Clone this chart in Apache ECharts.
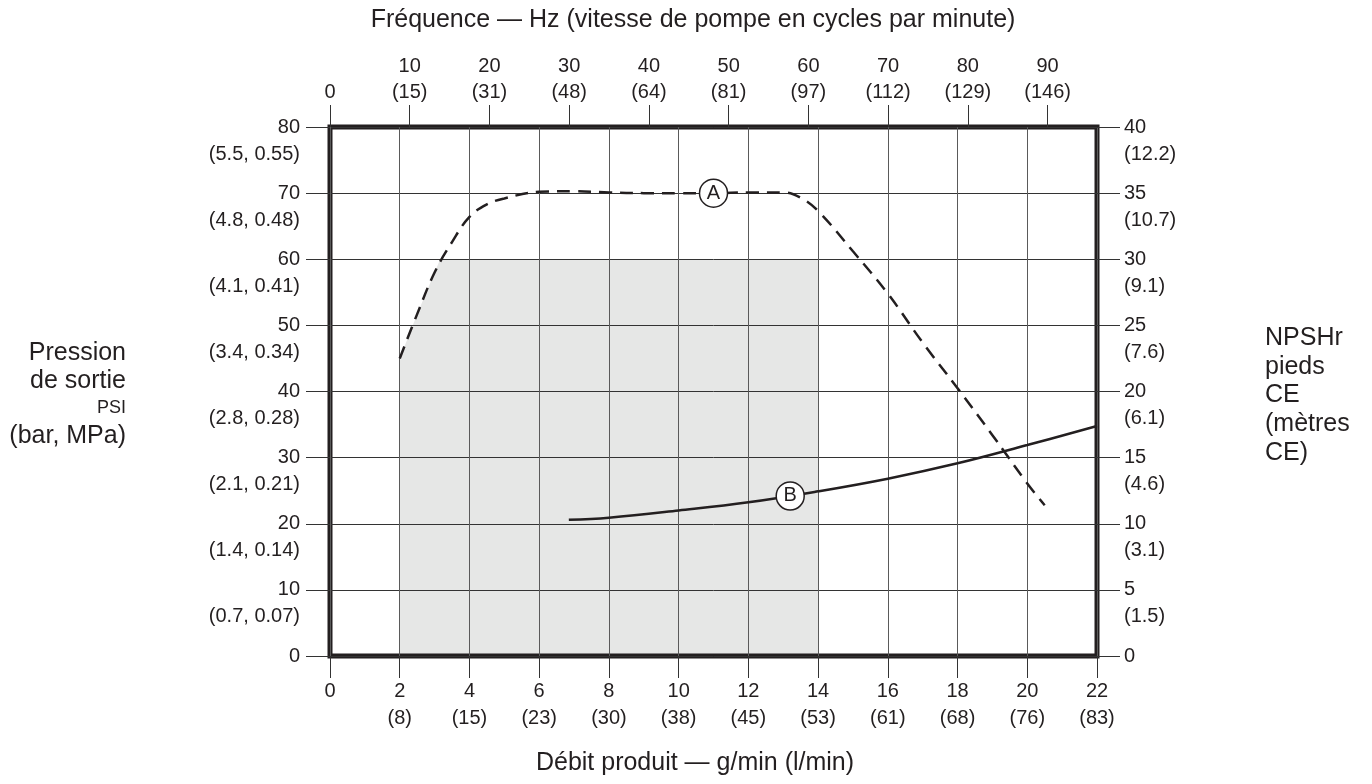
<!DOCTYPE html>
<html>
<head>
<meta charset="utf-8">
<title>Courbe de performance pompe</title>
<script src="https://cdn.jsdelivr.net/npm/echarts@6/dist/echarts.min.js"></script>
<style>
    html, body { margin: 0; padding: 0; background: #fff; }
    #chart { width: 1372px; height: 784px; }
</style>
</head>
<body>
<div id="chart"></div>
<script>
    // axe bas : débit g/min, l/min entre parenthèses
    const debitTicks = [0, 2, 4, 6, 8, 10, 12, 14, 16, 18, 20, 22];
    const debitLpm = ['', '8', '15', '23', '30', '38', '45', '53', '61', '68', '76', '83'];
    // axe haut : fréquence Hz, cycles/min entre parenthèses
    const freqTicks = [0, 10, 20, 30, 40, 50, 60, 70, 80, 90];
    const freqCpm = ['', '15', '31', '48', '64', '81', '97', '112', '129', '146'];
    const freqMax = 96.2;
    // axe gauche : PSI (bar, MPa)
    const psiTicks = [0, 10, 20, 30, 40, 50, 60, 70, 80];
    const psiBarMpa = ['', '0.7, 0.07', '1.4, 0.14', '2.1, 0.21', '2.8, 0.28', '3.4, 0.34', '4.1, 0.41', '4.8, 0.48', '5.5, 0.55'];
    // axe droit : NPSHr pieds CE (mètres CE)
    const npshTicks = [0, 5, 10, 15, 20, 25, 30, 35, 40];
    const npshMetres = ['', '1.5', '3.1', '4.6', '6.1', '7.6', '9.1', '10.7', '12.2'];

    // courbe A : pression de sortie (PSI)
    const courbeAx = [2, 2.5, 3, 3.5, 4, 4.5, 5, 6, 7, 8, 9, 10, 11, 12, 13, 13.5, 14, 15, 16, 17, 18, 19, 20, 20.5];
    const courbeAy = [45, 51.7, 58, 62.6, 66.4, 68.3, 69.2, 70.2, 70.3, 70.1, 70, 70, 70, 70.1, 70.1, 69.3, 67.3, 61.2, 54.8, 47.4, 40.5, 33.4, 26.1, 22.8];
    // courbe B : NPSHr (pieds CE)
    const courbeBx = [6.85, 8, 10, 12, 14, 16, 18, 20, 22];
    const courbeBy = [10.3, 10.46, 11.0, 11.62, 12.45, 13.41, 14.57, 15.95, 17.39];
    // zone grisée
    const zoneX = [2, 2.5, 3, 3.16, 14];
    const zoneY = [45, 51.7, 58, 60, 60];
    // repères A et B
    const repereA = [11, 70];
    const repereB = [13.2, 12.1];

    const ink = '#231f20';
    const font = '"Liberation Sans", Arial, sans-serif';

    const zip = (xs, ys) => xs.map((x, i) => [x, ys[i]]);

    const tickLabel = {color: ink, fontSize: 20, fontFamily: font, lineHeight: 27};
    const noLine = {show: false, onZero: false};

    // axe de valeurs principal + axe superposé pour la ligne entre parenthèses
    function axeY(pos, max, interval, ticks, subs, tickLen, margin, withSplit) {
        return [
            {
                type: 'value', position: pos, min: 0, max: max, interval: interval,
                axisLine: noLine,
                axisTick: {show: true, length: tickLen, lineStyle: {color: '#333', width: 1}},
                splitLine: {show: withSplit, lineStyle: {color: '#333', width: 1}},
                axisLabel: Object.assign({}, tickLabel, {margin: margin})
            },
            {
                type: 'value', position: pos, min: 0, max: max, interval: interval,
                axisLine: noLine, axisTick: {show: false}, splitLine: {show: false},
                axisLabel: Object.assign({}, tickLabel, {
                    margin: margin, verticalAlign: 'top', lineHeight: 54,
                    formatter: function (v) {
                        const i = ticks.indexOf(v);
                        return i > 0 ? '(' + subs[i] + ')' : '';
                    }
                })
            }
        ];
    }
    const yLeft = axeY('left', 80, 10, psiTicks, psiBarMpa, 24, 30, true);
    const yRight = axeY('right', 40, 5, npshTicks, npshMetres, 23, 27, false);

    const chart = echarts.init(document.getElementById('chart'));
    chart.setOption({
        animation: false,
        grid: {
            left: 330, right: 275, top: 127, bottom: 128,
            show: true, borderWidth: 5, borderColor: ink, backgroundColor: 'transparent'
        },
        xAxis: [
            {
                type: 'value', position: 'bottom', min: 0, max: 22, interval: 2,
                axisLine: noLine,
                axisTick: {show: true, length: 22, lineStyle: {color: '#333', width: 1}},
                splitLine: {show: true, lineStyle: {color: '#5a5a5a', width: 1}},
                axisLabel: Object.assign({}, tickLabel, {
                    margin: 22, verticalAlign: 'top',
                    formatter: function (v) {
                        const i = debitTicks.indexOf(v);
                        if (i <= 0) return String(v);
                        return v + '\n(' + debitLpm[i] + ')';
                    }
                })
            },
            {
                type: 'value', position: 'top', min: 0, max: freqMax, interval: 10,
                axisLine: noLine,
                axisTick: {show: true, length: 22, customValues: freqTicks, lineStyle: {color: '#333', width: 1}},
                splitLine: {show: false},
                axisLabel: Object.assign({}, tickLabel, {
                    margin: 22, lineHeight: 26, verticalAlign: 'bottom', customValues: freqTicks,
                    formatter: function (v) {
                        const i = freqTicks.indexOf(v);
                        if (i < 0) return '';
                        if (i === 0) return '0';
                        return v + '\n(' + freqCpm[i] + ')';
                    }
                })
            }
        ],
        yAxis: [yLeft[0], yRight[0], yLeft[1], yRight[1]],
        series: [
            {
                name: 'zone',
                type: 'line', xAxisIndex: 0, yAxisIndex: 0, z: -1,
                data: zip(zoneX, zoneY),
                symbol: 'none', silent: true,
                lineStyle: {width: 0},
                areaStyle: {color: '#e6e7e6', opacity: 1}
            },
            {
                name: 'A',
                type: 'line', xAxisIndex: 0, yAxisIndex: 0, z: 3,
                data: zip(courbeAx, courbeAy),
                symbol: 'none', smooth: 0.4,
                lineStyle: {color: ink, width: 2.5, type: [13, 8]}
            },
            {
                name: 'B',
                type: 'line', xAxisIndex: 0, yAxisIndex: 1, z: 3,
                data: zip(courbeBx, courbeBy),
                symbol: 'none', smooth: 0.4,
                lineStyle: {color: ink, width: 2.5}
            },
            {
                name: 'repereA',
                type: 'scatter', xAxisIndex: 0, yAxisIndex: 0, z: 5,
                data: [repereA], symbol: 'circle', symbolSize: 28,
                itemStyle: {color: '#fff', borderColor: ink, borderWidth: 1.5, opacity: 1},
                label: {show: true, position: 'inside', formatter: 'A', color: ink, fontSize: 20, fontFamily: font}
            },
            {
                name: 'repereB',
                type: 'scatter', xAxisIndex: 0, yAxisIndex: 1, z: 5,
                data: [repereB], symbol: 'circle', symbolSize: 28,
                itemStyle: {color: '#fff', borderColor: ink, borderWidth: 1.5, opacity: 1},
                label: {show: true, position: 'inside', formatter: 'B', color: ink, fontSize: 20, fontFamily: font}
            }
        ],
        graphic: [
            {type: 'text', x: 693, y: 20, style: {text: 'Fréquence — Hz (vitesse de pompe en cycles par minute)', fill: ink, font: '25px ' + font, align: 'center', verticalAlign: 'middle'}},
            {type: 'text', x: 695, y: 763, style: {text: 'Débit produit — g/min (l/min)', fill: ink, font: '25px ' + font, align: 'center', verticalAlign: 'middle'}},
            {type: 'text', x: 126, y: 353, style: {text: 'Pression', fill: ink, font: '25px ' + font, align: 'right', verticalAlign: 'middle'}},
            {type: 'text', x: 126, y: 381, style: {text: 'de sortie', fill: ink, font: '25px ' + font, align: 'right', verticalAlign: 'middle'}},
            {type: 'text', x: 126, y: 408, style: {text: 'PSI', fill: ink, font: '18px ' + font, align: 'right', verticalAlign: 'middle'}},
            {type: 'text', x: 126, y: 436, style: {text: '(bar, MPa)', fill: ink, font: '25px ' + font, align: 'right', verticalAlign: 'middle'}},
            {type: 'text', x: 1265, y: 338, style: {text: 'NPSHr', fill: ink, font: '25px ' + font, align: 'left', verticalAlign: 'middle'}},
            {type: 'text', x: 1265, y: 367, style: {text: 'pieds', fill: ink, font: '25px ' + font, align: 'left', verticalAlign: 'middle'}},
            {type: 'text', x: 1265, y: 395, style: {text: 'CE', fill: ink, font: '25px ' + font, align: 'left', verticalAlign: 'middle'}},
            {type: 'text', x: 1265, y: 424, style: {text: '(mètres', fill: ink, font: '25px ' + font, align: 'left', verticalAlign: 'middle'}},
            {type: 'text', x: 1265, y: 453, style: {text: 'CE)', fill: ink, font: '25px ' + font, align: 'left', verticalAlign: 'middle'}}
        ]
    });
</script>
</body>
</html>
